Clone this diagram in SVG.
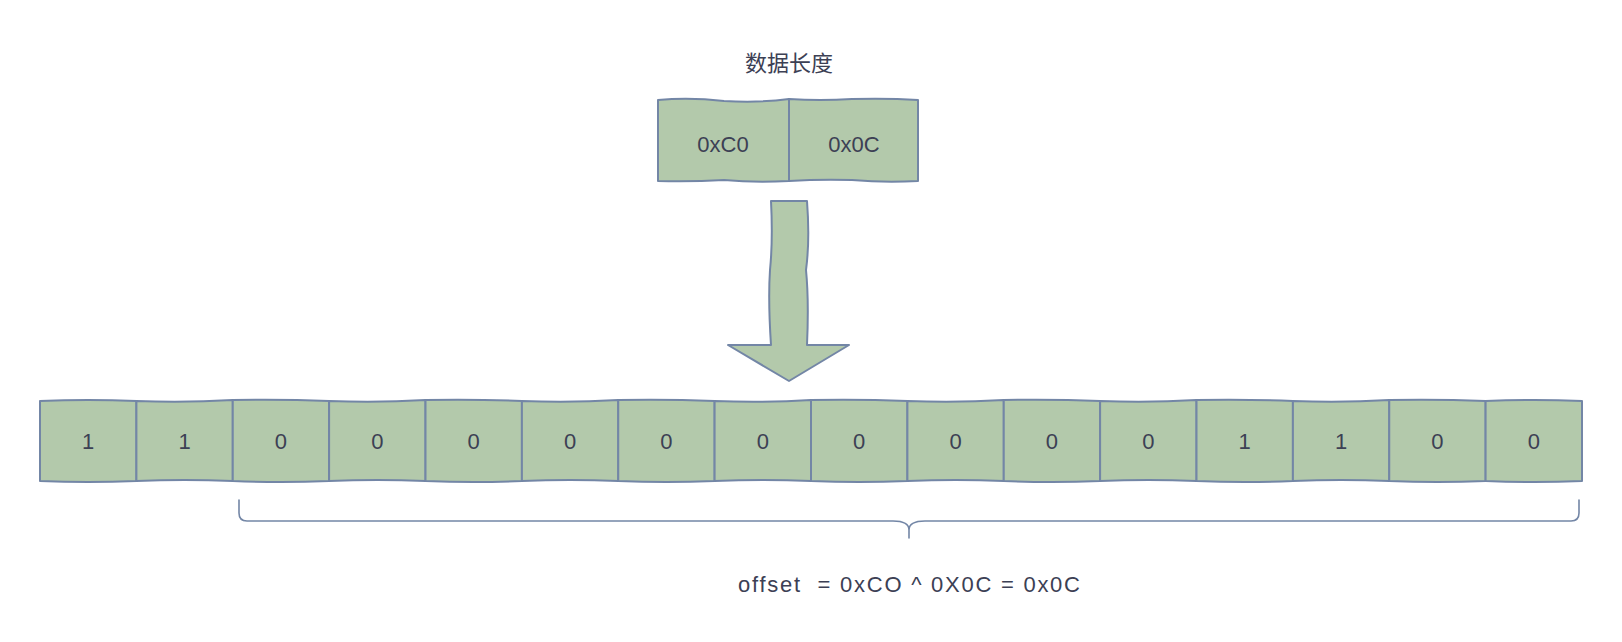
<svg xmlns="http://www.w3.org/2000/svg" width="1622" height="642" viewBox="0 0 1622 642">
<style>
.cell{fill:#b3c9ab;stroke:#7386a6;stroke-width:2;stroke-linejoin:round}
.t{font-family:"Liberation Sans","Noto Sans CJK SC",sans-serif;font-size:22px;fill:#3c4054;text-anchor:middle}
.brace{fill:none;stroke:#7386a6;stroke-width:1.6;stroke-linecap:round}
</style>
<rect width="1622" height="642" fill="#ffffff"/>
<g id="title"><text class="t" x="789" y="71" font-size="23">数据长度</text></g>
<g id="len-hi">
<path class="cell" d="M658,100 Q690,97 724,101 Q760,103 789,99 L789,181 Q755,183 724,180 Q690,182 658,181 Z"/>
<text class="t" x="723" y="152">0xC0</text>
</g>
<g id="len-lo">
<path class="cell" d="M789,99 Q820,101 852,99 Q888,98 918,100 L918,181 Q885,183 852,180 Q820,179 789,181 Z"/>
<text class="t" x="854" y="152">0x0C</text>
</g>
<g id="arrow">
<path class="cell" d="M771,201 L807,201 Q810,240 806,270 Q809,300 807,345 L849,345 L789,381 L728,345 L771,345 Q768,300 770,270 Q773,240 771,201 Z"/>
</g>
<g id="bits">
<g id="b0"><path class="cell" d="M40,401 Q88,399 136.4,401 L136.4,481 Q88,483 40,481 Z"/><text class="t" x="88.2" y="449">1</text></g>
<g id="b1"><path class="cell" d="M136.4,401 Q184,403 232.75,400 L232.75,481 Q184,479 136.4,481 Z"/><text class="t" x="184.6" y="449">1</text></g>
<g id="b2"><path class="cell" d="M232.75,400 Q281,399 329.1,401 L329.1,481 Q281,483 232.75,481 Z"/><text class="t" x="280.9" y="449">0</text></g>
<g id="b3"><path class="cell" d="M329.1,401 Q377,403 425.5,400 L425.5,481 Q377,479 329.1,481 Z"/><text class="t" x="377.3" y="449">0</text></g>
<g id="b4"><path class="cell" d="M425.5,400 Q474,399 521.9,401 L521.9,481 Q474,483 425.5,481 Z"/><text class="t" x="473.7" y="449">0</text></g>
<g id="b5"><path class="cell" d="M521.9,401 Q570,403 618.25,400 L618.25,481 Q570,479 521.9,481 Z"/><text class="t" x="570.1" y="449">0</text></g>
<g id="b6"><path class="cell" d="M618.25,400 Q666,399 714.6,401 L714.6,481 Q666,483 618.25,481 Z"/><text class="t" x="666.4" y="449">0</text></g>
<g id="b7"><path class="cell" d="M714.6,401 Q763,403 811,400 L811,481 Q763,479 714.6,481 Z"/><text class="t" x="762.8" y="449">0</text></g>
<g id="b8"><path class="cell" d="M811,400 Q859,399 907.4,401 L907.4,481 Q859,483 811,481 Z"/><text class="t" x="859.2" y="449">0</text></g>
<g id="b9"><path class="cell" d="M907.4,401 Q956,403 1003.75,400 L1003.75,481 Q956,479 907.4,481 Z"/><text class="t" x="955.6" y="449">0</text></g>
<g id="b10"><path class="cell" d="M1003.75,400 Q1052,399 1100.1,401 L1100.1,481 Q1052,483 1003.75,481 Z"/><text class="t" x="1051.9" y="449">0</text></g>
<g id="b11"><path class="cell" d="M1100.1,401 Q1148,403 1196.5,400 L1196.5,481 Q1148,479 1100.1,481 Z"/><text class="t" x="1148.3" y="449">0</text></g>
<g id="b12"><path class="cell" d="M1196.5,400 Q1245,399 1292.9,401 L1292.9,481 Q1245,483 1196.5,481 Z"/><text class="t" x="1244.7" y="449">1</text></g>
<g id="b13"><path class="cell" d="M1292.9,401 Q1341,403 1389.25,400 L1389.25,481 Q1341,479 1292.9,481 Z"/><text class="t" x="1341.1" y="449">1</text></g>
<g id="b14"><path class="cell" d="M1389.25,400 Q1437,399 1485.6,401 L1485.6,481 Q1437,483 1389.25,481 Z"/><text class="t" x="1437.4" y="449">0</text></g>
<g id="b15"><path class="cell" d="M1485.6,401 Q1534,399 1582,401 L1582,481 Q1534,483 1485.6,481 Z"/><text class="t" x="1533.8" y="449">0</text></g>
</g>
<g id="connectors">
<path class="brace" d="M239,500 L239,513 Q239,521 247,521 L893,521 Q909,521 909,530 L909,538 M909,530 Q909,521 925,521 L1571,521 Q1579,521 1579,513 L1579,500"/>
</g>
<g id="formula"><text class="t" x="738" y="592" style="text-anchor:start;white-space:pre" xml:space="preserve" textLength="342" lengthAdjust="spacing">offset  = 0xCO ^ 0X0C = 0x0C</text></g>
</svg>
